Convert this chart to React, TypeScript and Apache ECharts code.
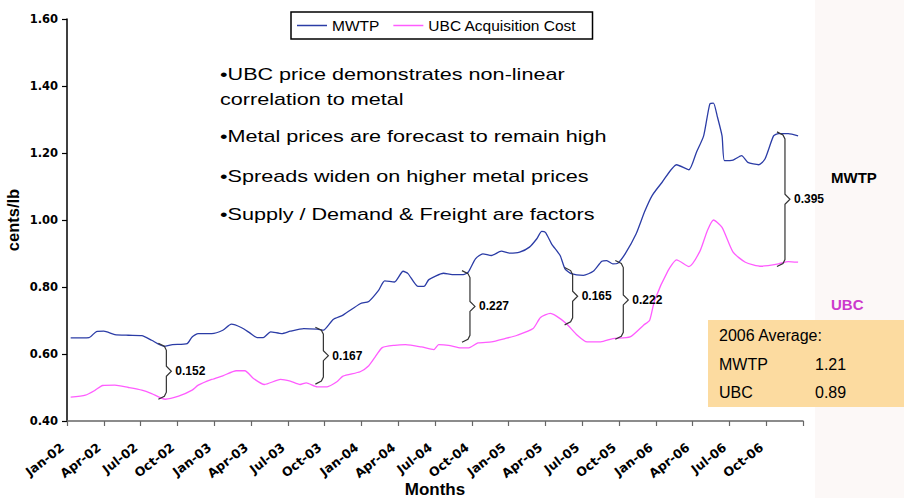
import React, { useEffect, useRef } from "react";
import * as echarts from "echarts";

// ---- data (months since Jan-02, cents/lb) ----
const xTickLabels = [
  "Jan-02", "Apr-02", "Jul-02", "Oct-02", "Jan-03", "Apr-03", "Jul-03", "Oct-03",
  "Jan-04", "Apr-04", "Jul-04", "Oct-04", "Jan-05", "Apr-05", "Jul-05", "Oct-05",
  "Jan-06", "Apr-06", "Jul-06", "Oct-06",
];

const mwtpPoints: [number, number][] = [
  [0.3, 0.648], [1.8, 0.649], [2.4, 0.667], [3.0, 0.668], [3.9, 0.658], [5.0, 0.656],
  [6.1, 0.655], [6.9, 0.641], [7.9, 0.623], [8.6, 0.628], [9.8, 0.631], [10.2, 0.651],
  [10.7, 0.661], [11.8, 0.661], [12.7, 0.671], [13.4, 0.689], [14.2, 0.679], [14.9, 0.663],
  [15.5, 0.649], [16.0, 0.649], [16.6, 0.666], [17.5, 0.661], [18.2, 0.668], [19.3, 0.676],
  [20.4, 0.674], [20.9, 0.671], [21.7, 0.703], [22.5, 0.716], [23.9, 0.750], [24.6, 0.757],
  [25.4, 0.790], [25.9, 0.818], [26.7, 0.815], [27.4, 0.847], [27.8, 0.840], [28.6, 0.802],
  [29.1, 0.802], [29.5, 0.822], [30.7, 0.841], [31.4, 0.837], [32.3, 0.837], [32.7, 0.844],
  [33.3, 0.884], [33.9, 0.899], [34.6, 0.894], [35.4, 0.907], [36.1, 0.901], [36.9, 0.904],
  [37.7, 0.919], [38.3, 0.944], [38.7, 0.966], [39.0, 0.963], [39.5, 0.929], [40.2, 0.894],
  [40.6, 0.854], [41.1, 0.840], [42.1, 0.835], [42.9, 0.847], [43.6, 0.877], [44.0, 0.879],
  [44.5, 0.869], [44.9, 0.871], [45.5, 0.899], [46.4, 0.959], [47.1, 1.026], [47.7, 1.073],
  [48.5, 1.112], [49.7, 1.165], [50.7, 1.150], [51.3, 1.201], [51.9, 1.251], [52.4, 1.346],
  [52.7, 1.349], [53.0, 1.311], [53.4, 1.251], [53.6, 1.177], [54.3, 1.179], [55.0, 1.192],
  [55.5, 1.172], [56.4, 1.165], [56.9, 1.182], [57.6, 1.251], [58.0, 1.258], [58.8, 1.258],
  [59.6, 1.251],
];

const ubcPoints: [number, number][] = [
  [0.3, 0.471], [1.5, 0.477], [2.3, 0.492], [2.9, 0.506], [3.9, 0.507], [5.0, 0.500],
  [6.1, 0.492], [6.9, 0.482], [8.0, 0.465], [9.1, 0.474], [10.2, 0.492], [10.7, 0.507],
  [11.8, 0.524], [12.7, 0.535], [13.8, 0.550], [14.5, 0.550], [15.2, 0.527], [16.1, 0.509],
  [17.4, 0.524], [18.2, 0.519], [19.0, 0.509], [19.5, 0.514], [20.4, 0.502], [21.2, 0.502],
  [22.0, 0.517], [22.5, 0.534], [23.9, 0.547], [24.6, 0.565], [25.1, 0.590], [25.7, 0.619],
  [26.7, 0.626], [27.6, 0.628], [28.9, 0.621], [29.9, 0.613], [30.3, 0.628], [31.1, 0.626],
  [31.9, 0.619], [32.7, 0.618], [33.5, 0.633], [34.6, 0.636], [35.7, 0.646], [36.7, 0.656],
  [38.0, 0.676], [38.6, 0.709], [39.4, 0.721], [39.9, 0.713], [40.7, 0.691], [41.6, 0.656],
  [42.4, 0.636], [43.5, 0.636], [44.5, 0.646], [45.9, 0.651], [47.0, 0.686], [47.5, 0.701],
  [47.9, 0.760], [49.0, 0.849], [49.7, 0.881], [50.7, 0.861], [51.6, 0.907], [52.2, 0.968],
  [52.7, 1.000], [53.4, 0.978], [54.3, 0.904], [55.3, 0.874], [56.6, 0.862], [58.0, 0.869],
  [58.8, 0.876], [59.6, 0.874],
];

// spread braces: month, top value, bottom value, label
const braceMonths = [8.1, 20.9, 32.85, 41.22, 45.35, 58.53];
const braceTop = [0.623, 0.671, 0.840, 0.849, 0.870, 1.254];
const braceBottom = [0.474, 0.519, 0.644, 0.696, 0.653, 0.870];
const braceLabels = ["0.152", "0.167", "0.227", "0.165", "0.222", "0.395"];

const bullets = [
  "•UBC price demonstrates non-linear",
  "correlation to metal",
  "•Metal prices are forecast to remain high",
  "•Spreads widen on higher metal prices",
  "•Supply / Demand & Freight are factors",
];
const avgTitle = "2006 Average:";
const avgNames = ["MWTP", "UBC"];
const avgValues = ["1.21", "0.89"];

const ARIAL = "'Liberation Sans', Arial, Helvetica, sans-serif";
const WIDE = "'DejaVu Sans', Verdana, sans-serif";

export default function App() {
  const ref = useRef<HTMLDivElement>(null);

  useEffect(() => {
    if (!ref.current) return;
    const chart = echarts.init(ref.current, undefined, { renderer: "svg" });

    const braceData = braceMonths.map((m, i) => [m, braceTop[i], braceBottom[i]]);
    const bulletY = [74, 99, 136, 176, 214];

    const option: any = {
      animation: false,
      backgroundColor: "#ffffff",
      grid: { left: 67, right: 101, top: 19, bottom: 77, containLabel: false, outerBoundsMode: "none" },
      legend: {
        data: ["MWTP", "UBC Acquisition Cost"],
        left: 291,
        top: 12,
        padding: [5, 16, 5, 6],
        itemGap: 14,
        itemWidth: 30,
        itemHeight: 1.5,
        icon: "rect",
        borderColor: "#000",
        borderWidth: 1.5,
        backgroundColor: "#fff",
        textStyle: { fontFamily: ARIAL, fontSize: 15.5, color: "#000", lineHeight: 17 },
      },
      xAxis: {
        type: "value",
        min: 0,
        max: 60,
        interval: 3,
        splitLine: { show: false },
        axisLine: { show: true, lineStyle: { color: "#666", width: 1.5 } },
        axisTick: { show: true, inside: false, length: 5, lineStyle: { color: "#666", width: 1.2 } },
        axisLabel: {
          rotate: 38,
          margin: 21,
          padding: [0, 6, 0, 0],
          fontFamily: WIDE,
          fontWeight: "bold",
          fontSize: 12.5,
          color: "#000",
          formatter: (v: number) => xTickLabels[Math.round(v / 3)] ?? "",
        },
        name: "Months",
        nameLocation: "middle",
        nameGap: 60,
        nameMoveOverlap: false,
        nameTextStyle: { fontFamily: ARIAL, fontWeight: "bold", fontSize: 17, color: "#000" },
      },
      yAxis: {
        type: "value",
        min: 0.4,
        max: 1.6,
        interval: 0.2,
        splitLine: { show: false },
        axisLine: { show: true, lineStyle: { color: "#000", width: 1.5 } },
        axisTick: { show: true, inside: false, length: 5, lineStyle: { color: "#000", width: 1.2 } },
        axisLabel: {
          margin: 9,
          fontFamily: WIDE,
          fontWeight: "bold",
          fontSize: 11.5,
          color: "#000",
          formatter: (v: number) => v.toFixed(2),
        },
        name: "cents/lb",
        nameLocation: "middle",
        nameGap: 46,
        nameRotate: 90,
        nameMoveOverlap: false,
        nameTextStyle: { fontFamily: ARIAL, fontWeight: "bold", fontSize: 16.5, color: "#000" },
      },
      series: [
        {
          name: "MWTP",
          type: "line",
          data: mwtpPoints,
          symbol: "none",
          showSymbol: false,
          smooth: 0.2,
          lineStyle: { color: "#2B3CA6", width: 1.3 },
          itemStyle: { color: "#2B3CA6" },
          z: 3,
        },
        {
          name: "UBC Acquisition Cost",
          type: "line",
          data: ubcPoints,
          symbol: "none",
          showSymbol: false,
          smooth: 0.2,
          lineStyle: { color: "#FF5CFF", width: 1.3 },
          itemStyle: { color: "#FF5CFF" },
          z: 3,
        },
        {
          name: "braces",
          type: "custom",
          silent: true,
          clip: false,
          data: braceData,
          z: 4,
          renderItem: (params: any, api: any) => {
            const i = params.dataIndex;
            const m = api.value(0);
            const pT = api.coord([m, api.value(1)]);
            const pB = api.coord([m, api.value(2)]);
            const x = pT[0];
            const yT = pT[1];
            const yB = pB[1];
            const yM = (yT + yB) / 2;
            const hook = 8;
            const pts = [
              [x - hook, yT - 3],
              [x - 2, yT],
              [x, yT + 4],
              [x, yM - 5],
              [x + 5, yM],
              [x, yM + 5],
              [x, yB - 4],
              [x - 2, yB],
              [x - hook, yB + 3],
            ];
            return {
              type: "group",
              children: [
                {
                  type: "polyline",
                  shape: { points: pts },
                  style: { stroke: "#333", fill: "none", lineWidth: 1.2 },
                },
                {
                  type: "text",
                  x: x + 9,
                  y: yM,
                  style: {
                    text: braceLabels[i],
                    fontFamily: ARIAL,
                    fontWeight: "bold",
                    fontSize: 12,
                    fill: "#000",
                    verticalAlign: "middle",
                    align: "left",
                  },
                },
              ],
            };
          },
        },
      ],
      graphic: [
        {
          type: "rect",
          z: -10,
          silent: true,
          shape: { x: 815, y: 0, width: 89, height: 498 },
          style: { fill: "#FCF8F7" },
        },
        ...bullets.map((t, i) => ({
          type: "text",
          x: 220,
          y: bulletY[i],
          scaleX: 1.27,
          silent: true,
          style: {
            text: t,
            fontFamily: ARIAL,
            fontSize: 17,
            fill: "#000",
            verticalAlign: "middle",
            align: "left",
          },
        })),
        {
          type: "text",
          x: 831,
          y: 177,
          style: { text: "MWTP", fontFamily: ARIAL, fontWeight: "bold", fontSize: 15, fill: "#000", verticalAlign: "middle" },
        },
        {
          type: "text",
          x: 831,
          y: 304,
          style: { text: "UBC", fontFamily: ARIAL, fontWeight: "bold", fontSize: 15, fill: "#CC3ACC", verticalAlign: "middle" },
        },
        {
          type: "rect",
          shape: { x: 708, y: 320, width: 196, height: 87 },
          style: { fill: "#FCDBA0" },
        },
        {
          type: "text",
          x: 719,
          y: 335,
          style: { text: avgTitle, fontFamily: ARIAL, fontSize: 16, fill: "#000", verticalAlign: "middle" },
        },
        ...avgNames.map((n, i) => ({
          type: "text",
          x: 719,
          y: 364 + i * 28,
          style: { text: n, fontFamily: ARIAL, fontSize: 16, fill: "#000", verticalAlign: "middle" },
        })),
        ...avgValues.map((v, i) => ({
          type: "text",
          x: 815,
          y: 364 + i * 28,
          style: { text: v, fontFamily: ARIAL, fontSize: 16, fill: "#000", verticalAlign: "middle" },
        })),
      ],
    };

    chart.setOption(option);
    return () => chart.dispose();
  }, []);

  return (
    <div
      ref={ref}
      style={{ position: "fixed", left: 0, top: 0, width: 904, height: 498, background: "#fff" }}
    />
  );
}
